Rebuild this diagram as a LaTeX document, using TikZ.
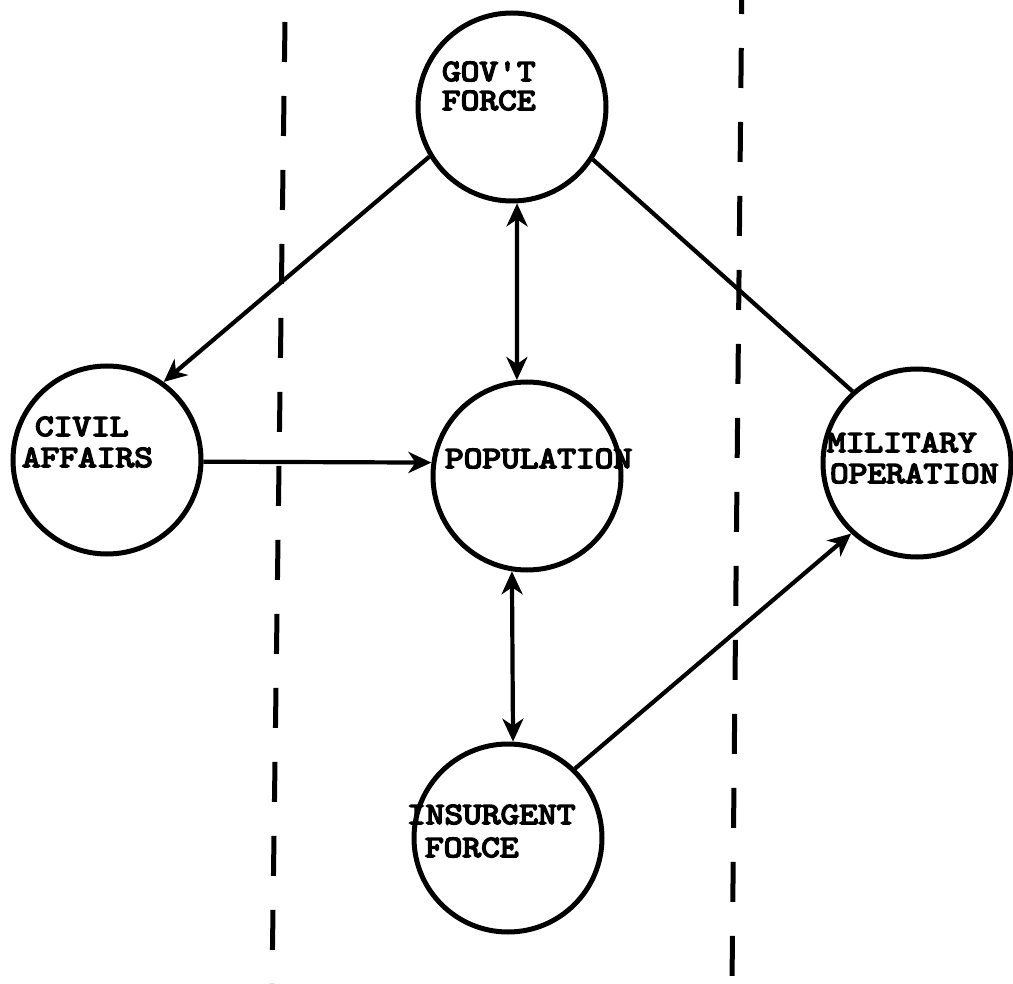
\documentclass[tikz,border=0pt]{standalone}
\usepackage{fontspec}
\usetikzlibrary{arrows.meta}
% heavy, slightly widened typewriter face for the circle captions
\newfontfamily\typefont{lmmono10-regular.otf}[FakeBold=5, FakeStretch=1.15]

\begin{document}
\begin{tikzpicture}[
  x=1pt, y=-1pt,
  bubble/.style={draw, circle, line width=5pt, minimum size=188pt, inner sep=0pt},
  wire/.style={line width=4.2pt},
  tip/.style={-{Stealth[length=23pt, width=21pt, inset=7pt]}},
  bitip/.style={{Stealth[length=23pt, width=21pt, inset=7pt]}-{Stealth[length=23pt, width=21pt, inset=7pt]}},
  divider/.style={line width=5pt, dash pattern=on 40pt off 34pt},
  caption/.style={anchor=base west, inner sep=0pt, outer sep=0pt,
                  font=\typefont\fontsize{31}{31}\selectfont}
]
\useasboundingbox (0,0) rectangle (1013,984);

% vertical separators
\coordinate (lA) at (285,22);
\coordinate (lB) at (272,984);
\coordinate (rA) at (742,-26);
\coordinate (rB) at (732,984);
\draw[divider] (lA) -- (lB);
\draw[divider] (rA) -- (rB);

% circles
\node[bubble] (gov) at (512,107) {};
\node[bubble] (civ) at (107,460) {};
\node[bubble] (pop) at (527,476) {};
\node[bubble] (mil) at (917,463) {};
\node[bubble] (ins) at (508,838) {};

% labels
\node[caption] (govA) at (442,81)  {GOV'T};
\node[caption] (govB) at (442,110) {FORCE};
\node[caption] (civA) at (35,436)  {CIVIL};
\node[caption] (civB) at (22,467)  {AFFAIRS};
\node[caption] (popA) at (445,468) {POPULATION};
\node[caption] (milA) at (827,452) {MILITARY};
\node[caption] (milB) at (830,483) {OPERATION};
\node[caption] (insA) at (407,824) {INSURGENT};
\node[caption] (insB) at (425,857) {FORCE};

% connectors
\draw[wire, tip]   (gov.211) -- (civ.54);
\draw[wire, bitip] (gov.273) -- (pop.96);
\draw[wire, tip]   (civ.359) -- (pop.172);
\draw[wire, bitip] (pop.261) -- (ins.87);
\draw[wire]        (gov.327) -- (mil.132);
\draw[wire, tip]   (ins.46)  -- (mil.227);
\end{tikzpicture}
\end{document}
